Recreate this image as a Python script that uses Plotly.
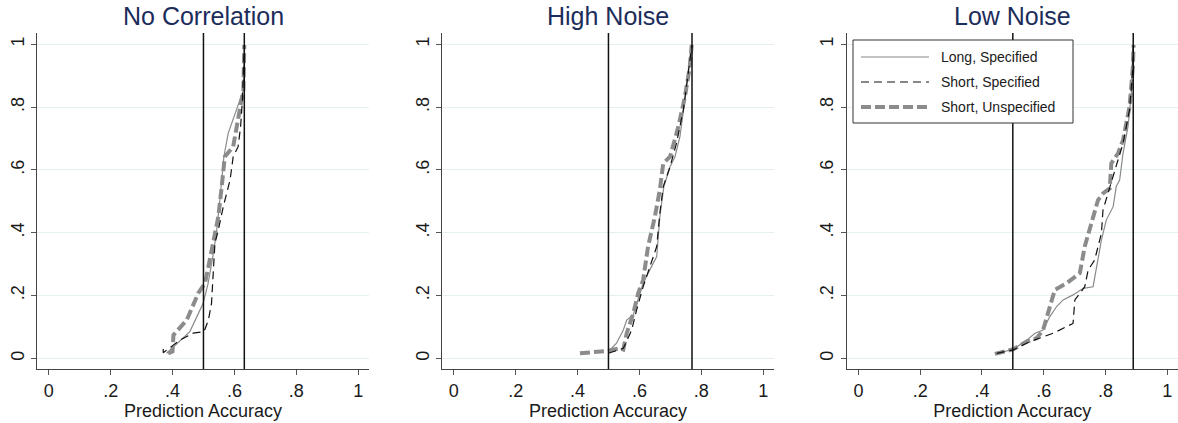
import plotly.graph_objects as go

# ---------------- data ----------------
titles = ["No Correlation", "High Noise", "Low Noise"]
series_names = ["Long, Specified", "Short, Specified", "Short, Unspecified"]
tick_vals = [0, 0.2, 0.4, 0.6, 0.8, 1.0]
tick_text = ["0", ".2", ".4", ".6", ".8", "1"]
ref_lines = [[0.5, 0.632], [0.5, 0.77], [0.5, 0.89]]

# Panel 1: No Correlation
nc_long_x = [0.381, 0.403, 0.456, 0.499, 0.515, 0.532, 0.543, 0.553, 0.566, 0.580, 0.596, 0.618, 0.629, 0.632]
nc_long_y = [0.016, 0.037, 0.085, 0.175, 0.239, 0.334, 0.409, 0.504, 0.642, 0.717, 0.759, 0.823, 0.855, 0.998]
nc_short_x = [0.370, 0.370, 0.424, 0.467, 0.502, 0.516, 0.526, 0.532, 0.537, 0.548, 0.564, 0.586, 0.596, 0.612, 0.620, 0.626, 0.632]
nc_short_y = [0.030, 0.018, 0.058, 0.080, 0.085, 0.122, 0.175, 0.271, 0.366, 0.409, 0.483, 0.568, 0.642, 0.674, 0.738, 0.823, 0.998]
nc_unsp_x = [0.386, 0.400, 0.403, 0.446, 0.483, 0.505, 0.516, 0.532, 0.548, 0.559, 0.569, 0.596, 0.609, 0.623, 0.629, 0.632]
nc_unsp_y = [0.016, 0.022, 0.074, 0.122, 0.207, 0.239, 0.292, 0.377, 0.451, 0.547, 0.642, 0.674, 0.738, 0.823, 0.855, 0.998]

# Panel 2: High Noise
hn_long_x = [0.4995, 0.526, 0.548, 0.559, 0.580, 0.596, 0.612, 0.639, 0.656, 0.666, 0.679, 0.699, 0.715, 0.731, 0.747, 0.763, 0.770]
hn_long_y = [0.021, 0.048, 0.090, 0.122, 0.138, 0.186, 0.239, 0.292, 0.324, 0.451, 0.547, 0.610, 0.642, 0.706, 0.823, 0.961, 0.998]
hn_short_x = [0.500, 0.548, 0.575, 0.591, 0.612, 0.634, 0.656, 0.666, 0.677, 0.699, 0.720, 0.742, 0.763, 0.770]
hn_short_y = [0.016, 0.032, 0.090, 0.154, 0.228, 0.292, 0.356, 0.462, 0.547, 0.610, 0.685, 0.791, 0.940, 0.998]
hn_unsp_x = [0.408, 0.4995, 0.537, 0.548, 0.559, 0.580, 0.596, 0.612, 0.628, 0.650, 0.666, 0.677, 0.699, 0.726, 0.747, 0.763, 0.769]
hn_unsp_y = [0.016, 0.024, 0.032, 0.028, 0.080, 0.143, 0.207, 0.249, 0.356, 0.451, 0.536, 0.621, 0.642, 0.738, 0.833, 0.929, 0.998]

# Panel 3: Low Noise
ln_long_x = [0.448, 0.502, 0.545, 0.572, 0.598, 0.620, 0.642, 0.663, 0.695, 0.728, 0.760, 0.771, 0.787, 0.803, 0.825, 0.835, 0.846, 0.857, 0.873, 0.884, 0.889]
ln_long_y = [0.016, 0.029, 0.058, 0.080, 0.090, 0.133, 0.165, 0.186, 0.202, 0.223, 0.228, 0.292, 0.377, 0.441, 0.483, 0.547, 0.568, 0.653, 0.738, 0.844, 0.998]
ln_short_x = [0.448, 0.502, 0.555, 0.631, 0.695, 0.701, 0.733, 0.744, 0.765, 0.787, 0.792, 0.808, 0.825, 0.841, 0.857, 0.878, 0.889, 0.891]
ln_short_y = [0.016, 0.027, 0.053, 0.080, 0.111, 0.186, 0.228, 0.281, 0.313, 0.398, 0.472, 0.525, 0.579, 0.632, 0.685, 0.791, 0.929, 0.998]
ln_unsp_x = [0.442, 0.502, 0.545, 0.577, 0.598, 0.614, 0.636, 0.674, 0.717, 0.733, 0.749, 0.776, 0.792, 0.814, 0.819, 0.841, 0.857, 0.878, 0.889, 0.891]
ln_unsp_y = [0.014, 0.029, 0.053, 0.064, 0.090, 0.143, 0.218, 0.239, 0.271, 0.356, 0.409, 0.504, 0.525, 0.541, 0.621, 0.653, 0.695, 0.801, 0.929, 0.998]

panels = [
    [(nc_long_x, nc_long_y), (nc_short_x, nc_short_y), (nc_unsp_x, nc_unsp_y)],
    [(hn_long_x, hn_long_y), (hn_short_x, hn_short_y), (hn_unsp_x, hn_unsp_y)],
    [(ln_long_x, ln_long_y), (ln_short_x, ln_short_y), (ln_unsp_x, ln_unsp_y)],
]

# ---------------- styles ----------------
W, H = 1178, 423
FONT = "Liberation Sans, Arial, Helvetica, sans-serif"
styles = {
    "Long, Specified": dict(color="#8a8a8a", width=1.2, dash="solid"),
    "Short, Specified": dict(color="#111111", width=1.2, dash="8px,5px"),
    "Short, Unspecified": dict(color="#8c8c8c", width=4, dash="10px,4px"),
}
draw_order = [2, 0, 1]
x_domains = [[37 / W, 369 / W], [442 / W, 774 / W], [846.7 / W, 1.0]]
y_domain = [1 - 369 / H, 1 - 33 / H]
x_range = [-0.038, 1.035]
y_range = [-0.034, 1.036]

fig = go.Figure()
for p, series in enumerate(panels):
    xa = "x" if p == 0 else f"x{p + 1}"
    ya = "y" if p == 0 else f"y{p + 1}"
    for i in draw_order:
        xs, ys = series[i]
        name = series_names[i]
        fig.add_trace(go.Scatter(
            x=xs, y=ys, mode="lines", name=name, showlegend=False,
            line=styles[name], xaxis=xa, yaxis=ya, hoverinfo="skip",
        ))

layout = dict(
    width=W, height=H,
    margin=dict(l=0, r=0, t=0, b=0),
    paper_bgcolor="white", plot_bgcolor="white",
    font=dict(family=FONT, color="#1a1a1a"),
    shapes=[], annotations=[],
)
for p in range(3):
    sx = "" if p == 0 else str(p + 1)
    layout[f"xaxis{sx}"] = dict(
        domain=x_domains[p], range=x_range, anchor=f"y{sx}",
        tickvals=tick_vals, ticktext=tick_text, ticks="outside", ticklen=5,
        tickcolor="#555555", tickwidth=1,
        showline=True, linecolor="#444444", linewidth=1.2,
        showgrid=False, zeroline=False,
        tickfont=dict(size=18, family=FONT, color="#1a1a1a"),
        title=dict(text="Prediction Accuracy", font=dict(size=18, family=FONT, color="#1a1a1a"), standoff=2),
    )
    layout[f"yaxis{sx}"] = dict(
        domain=y_domain, range=y_range, anchor=f"x{sx}",
        tickvals=tick_vals, ticktext=tick_text, ticks="outside", ticklen=5,
        tickcolor="#555555", tickwidth=1, tickangle=-90,
        showline=True, linecolor="#444444", linewidth=1.2,
        showgrid=True, gridcolor="#e6eff1", gridwidth=1.2, zeroline=False,
        tickfont=dict(size=18, family=FONT, color="#1a1a1a"),
    )
    for v in ref_lines[p]:
        layout["shapes"].append(dict(
            type="line", xref=f"x{sx}", yref=f"y{sx} domain", x0=v, x1=v, y0=0, y1=1,
            line=dict(color="#111111", width=1.5), layer="above",
        ))
    layout["annotations"].append(dict(
        text=titles[p], xref="paper", yref="paper",
        x=(x_domains[p][0] + x_domains[p][1]) / 2, y=1 - 16 / H,
        xanchor="center", yanchor="middle", showarrow=False,
        font=dict(size=25, family=FONT, color="#1c2d5b"),
    ))

# manual legend box in the third panel
lx0, lx1, ly0, ly1 = 853, 1073, 40, 123
layout["shapes"].append(dict(
    type="rect", xref="paper", yref="paper",
    x0=lx0 / W, x1=lx1 / W, y0=1 - ly1 / H, y1=1 - ly0 / H,
    line=dict(color="#333333", width=1), fillcolor="white", layer="above",
))
row_y = [57, 82, 107]
for k, name in enumerate(series_names):
    st = styles[name]
    layout["shapes"].append(dict(
        type="line", xref="paper", yref="paper",
        x0=861 / W, x1=929 / W, y0=1 - row_y[k] / H, y1=1 - row_y[k] / H,
        line=dict(color=st["color"], width=st["width"], dash=st["dash"]), layer="above",
    ))
    layout["annotations"].append(dict(
        text=name, xref="paper", yref="paper", x=939 / W, y=1 - row_y[k] / H,
        xanchor="left", yanchor="middle", showarrow=False,
        font=dict(size=14, family=FONT, color="#1a1a1a"),
    ))

fig.update_layout(**layout)
fig.write_html("out.html")
